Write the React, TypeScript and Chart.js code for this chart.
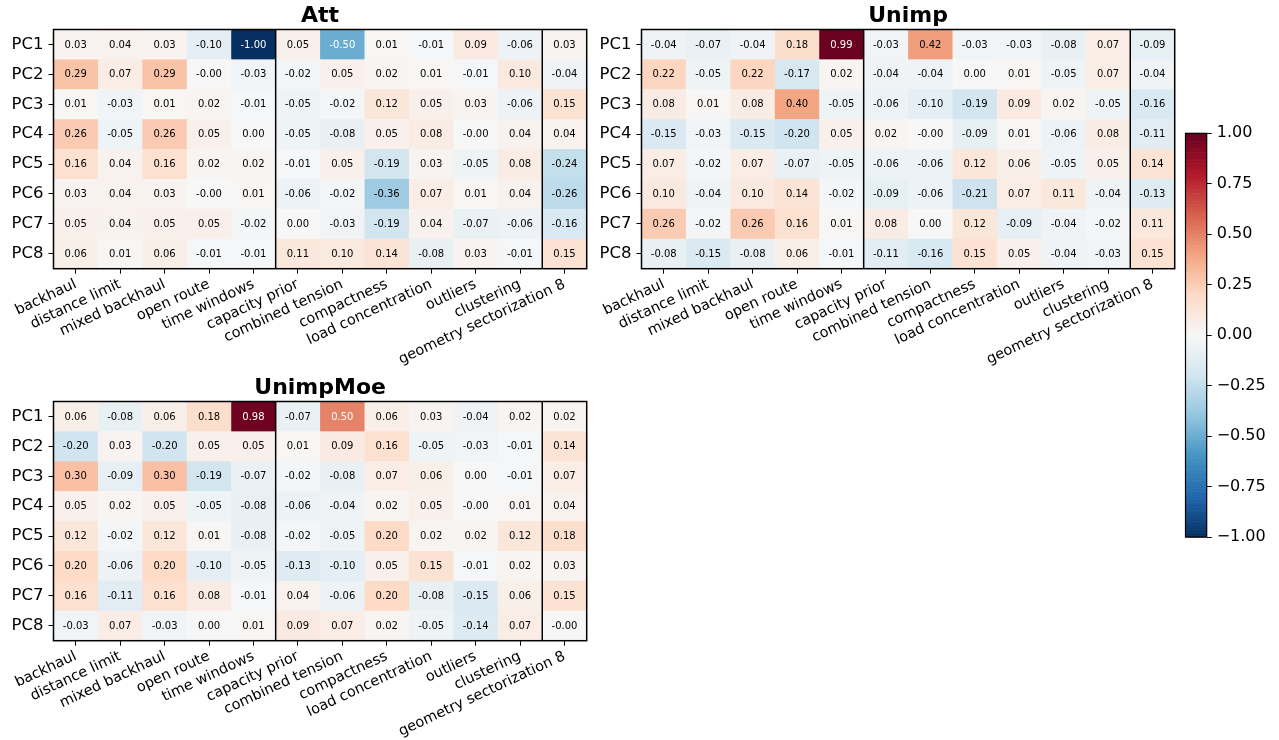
import { useEffect, useRef } from "react";
import { Chart, registerables } from "chart.js";

Chart.register(...registerables);

const features = [
  "backhaul",
  "distance limit",
  "mixed backhaul",
  "open route",
  "time windows",
  "capacity prior",
  "combined tension",
  "compactness",
  "load concentration",
  "outliers",
  "clustering",
  "geometry sectorization 8",
];

const components = ["PC1", "PC2", "PC3", "PC4", "PC5", "PC6", "PC7", "PC8"];

const attValues = [
  [0.03, 0.04, 0.03, -0.1, -1.0, 0.05, -0.5, 0.01, -0.01, 0.09, -0.06, 0.03],
  [0.29, 0.07, 0.29, -0.0, -0.03, -0.02, 0.05, 0.02, 0.01, -0.01, 0.1, -0.04],
  [0.01, -0.03, 0.01, 0.02, -0.01, -0.05, -0.02, 0.12, 0.05, 0.03, -0.06, 0.15],
  [0.26, -0.05, 0.26, 0.05, 0.0, -0.05, -0.08, 0.05, 0.08, -0.0, 0.04, 0.04],
  [0.16, 0.04, 0.16, 0.02, 0.02, -0.01, 0.05, -0.19, 0.03, -0.05, 0.08, -0.24],
  [0.03, 0.04, 0.03, -0.0, 0.01, -0.06, -0.02, -0.36, 0.07, 0.01, 0.04, -0.26],
  [0.05, 0.04, 0.05, 0.05, -0.02, 0.0, -0.03, -0.19, 0.04, -0.07, -0.06, -0.16],
  [0.06, 0.01, 0.06, -0.01, -0.01, 0.11, 0.1, 0.14, -0.08, 0.03, -0.01, 0.15],
];

const unimpValues = [
  [-0.04, -0.07, -0.04, 0.18, 0.99, -0.03, 0.42, -0.03, -0.03, -0.08, 0.07, -0.09],
  [0.22, -0.05, 0.22, -0.17, 0.02, -0.04, -0.04, 0.0, 0.01, -0.05, 0.07, -0.04],
  [0.08, 0.01, 0.08, 0.4, -0.05, -0.06, -0.1, -0.19, 0.09, 0.02, -0.05, -0.16],
  [-0.15, -0.03, -0.15, -0.2, 0.05, 0.02, -0.0, -0.09, 0.01, -0.06, 0.08, -0.11],
  [0.07, -0.02, 0.07, -0.07, -0.05, -0.06, -0.06, 0.12, 0.06, -0.05, 0.05, 0.14],
  [0.1, -0.04, 0.1, 0.14, -0.02, -0.09, -0.06, -0.21, 0.07, 0.11, -0.04, -0.13],
  [0.26, -0.02, 0.26, 0.16, 0.01, 0.08, 0.0, 0.12, -0.09, -0.04, -0.02, 0.11],
  [-0.08, -0.15, -0.08, 0.06, -0.01, -0.11, -0.16, 0.15, 0.05, -0.04, -0.03, 0.15],
];

const unimpMoeValues = [
  [0.06, -0.08, 0.06, 0.18, 0.98, -0.07, 0.5, 0.06, 0.03, -0.04, 0.02, 0.02],
  [-0.2, 0.03, -0.2, 0.05, 0.05, 0.01, 0.09, 0.16, -0.05, -0.03, -0.01, 0.14],
  [0.3, -0.09, 0.3, -0.19, -0.07, -0.02, -0.08, 0.07, 0.06, 0.0, -0.01, 0.07],
  [0.05, 0.02, 0.05, -0.05, -0.08, -0.06, -0.04, 0.02, 0.05, -0.0, 0.01, 0.04],
  [0.12, -0.02, 0.12, 0.01, -0.08, -0.02, -0.05, 0.2, 0.02, 0.02, 0.12, 0.18],
  [0.2, -0.06, 0.2, -0.1, -0.05, -0.13, -0.1, 0.05, 0.15, -0.01, 0.02, 0.03],
  [0.16, -0.11, 0.16, 0.08, -0.01, 0.04, -0.06, 0.2, -0.08, -0.15, 0.06, 0.15],
  [-0.03, 0.07, -0.03, 0.0, 0.01, 0.09, 0.07, 0.02, -0.05, -0.14, 0.07, -0.0],
];

// signed zeros that print as -0.00 in the reference
const negativeZeroCells: Record<string, string[]> = {
  Att: ["1,3", "5,3", "3,9"],
  Unimp: ["3,6"],
  UnimpMoe: ["3,9", "7,11"],
};

const groupBoundaries = [4.5, 10.5];
const colorbarTicks = [-1, -0.75, -0.5, -0.25, 0, 0.25, 0.5, 0.75, 1];

// RdBu_r anchors, from -1 to +1
const rdbuR = [
  [5, 48, 97],
  [33, 102, 172],
  [67, 147, 195],
  [146, 197, 222],
  [209, 229, 240],
  [247, 247, 247],
  [253, 219, 199],
  [244, 165, 130],
  [214, 96, 77],
  [178, 24, 43],
  [103, 0, 31],
];

function colorFor(v: number): string {
  const t = Math.max(0, Math.min(1, (v + 1) / 2)) * (rdbuR.length - 1);
  const i = Math.min(rdbuR.length - 2, Math.floor(t));
  const f = t - i;
  const a = rdbuR[i];
  const b = rdbuR[i + 1];
  const c = a.map((x, k) => Math.round(x + (b[k] - x) * f));
  return `rgb(${c[0]},${c[1]},${c[2]})`;
}

const FONT = "'DejaVu Sans', sans-serif";

function formatCell(v: number, neg: boolean): string {
  const s = v.toFixed(2);
  if (neg && v === 0) return "-0.00";
  return s;
}

type PanelProps = {
  title: string;
  values: number[][];
  left: number;
  top: number;
};

function HeatmapPanel({ title, values, left, top }: PanelProps) {
  const ref = useRef<HTMLCanvasElement | null>(null);
  useEffect(() => {
    if (!ref.current) return;
    const negs = negativeZeroCells[title] || [];
    const points: { x: number; y: number; v: number }[] = [];
    values.forEach((row, r) =>
      row.forEach((v, c) => points.push({ x: c, y: r, v }))
    );

    const heatPlugin = {
      id: "heat",
      beforeDatasetsDraw(chart: any) {
        const { ctx, chartArea } = chart;
        const xs = chart.scales.x;
        const ys = chart.scales.y;
        ctx.save();
        points.forEach((p) => {
          const x0 = xs.getPixelForValue(p.x - 0.5);
          const x1 = xs.getPixelForValue(p.x + 0.5);
          const y0 = ys.getPixelForValue(p.y - 0.5);
          const y1 = ys.getPixelForValue(p.y + 0.5);
          ctx.fillStyle = colorFor(p.v);
          ctx.fillRect(
            Math.min(x0, x1),
            Math.min(y0, y1),
            Math.abs(x1 - x0) + 0.5,
            Math.abs(y1 - y0) + 0.5
          );
        });
        ctx.font = `10px ${FONT}`;
        ctx.textAlign = "center";
        ctx.textBaseline = "middle";
        points.forEach((p) => {
          const cx = xs.getPixelForValue(p.x);
          const cy = ys.getPixelForValue(p.y);
          ctx.fillStyle = Math.abs(p.v) >= 0.45 ? "#ffffff" : "#000000";
          ctx.fillText(formatCell(p.v, negs.includes(`${p.y},${p.x}`)), cx, cy + 0.5);
        });
        // group separators
        ctx.strokeStyle = "#000000";
        ctx.lineWidth = 1.5;
        groupBoundaries.forEach((b) => {
          const x = xs.getPixelForValue(b);
          ctx.beginPath();
          ctx.moveTo(x, chartArea.top);
          ctx.lineTo(x, chartArea.bottom);
          ctx.stroke();
        });
        ctx.lineWidth = 1.5;
        ctx.strokeRect(
          chartArea.left,
          chartArea.top,
          chartArea.right - chartArea.left,
          chartArea.bottom - chartArea.top
        );
        // title
        ctx.fillStyle = "#000000";
        ctx.font = `bold 22px ${FONT}`;
        ctx.textAlign = "center";
        ctx.textBaseline = "alphabetic";
        ctx.fillText(title, (chartArea.left + chartArea.right) / 2, chartArea.top - 7.5);
        ctx.restore();
      },
    };

    const chart = new Chart(ref.current, {
      type: "scatter",
      data: {
        datasets: [
          {
            data: points.map((p) => ({ x: p.x, y: p.y })),
            pointRadius: 0,
            pointHoverRadius: 0,
          },
        ],
      },
      options: {
        animation: false,
        responsive: false,
        events: [],
        layout: { padding: { left: 0, right: 13.3, top: 29.5, bottom: 0 } },
        plugins: {
          legend: { display: false },
          tooltip: { enabled: false },
          title: { display: false },
        },
        scales: {
          x: {
            type: "linear",
            min: -0.5,
            max: 11.5,
            afterBuildTicks: (s: any) => {
              s.ticks = features.map((_, i) => ({ value: i }));
            },
            afterFit: (s: any) => {
              s.height = 101.3;
            },
            ticks: {
              autoSkip: false,
              minRotation: 25,
              maxRotation: 25,
              padding: 2,
              color: "#000000",
              font: { family: FONT, size: 14.5 },
              callback: (v: any) => features[v as number] ?? "",
            },
            grid: {
              drawOnChartArea: false,
              drawTicks: true,
              tickLength: 5,
              color: "#000000",
              lineWidth: 1,
            },
            border: { display: false },
          },
          y: {
            type: "linear",
            min: -0.5,
            max: 7.5,
            reverse: true,
            afterBuildTicks: (s: any) => {
              s.ticks = components.map((_, i) => ({ value: i }));
            },
            afterFit: (s: any) => {
              s.width = 53.5;
            },
            ticks: {
              autoSkip: false,
              padding: 5,
              color: "#000000",
              font: { family: FONT, size: 16.5 },
              callback: (v: any) => components[v as number] ?? "",
            },
            grid: {
              drawOnChartArea: false,
              drawTicks: true,
              tickLength: 5,
              color: "#000000",
              lineWidth: 1,
            },
            border: { display: false },
          },
        },
      },
      plugins: [heatPlugin],
    } as any);
    return () => chart.destroy();
  }, [title, values]);

  return (
    <canvas
      ref={ref}
      width={600}
      height={370}
      style={{ position: "absolute", left, top, width: 600, height: 370 }}
    />
  );
}

function Colorbar() {
  const ref = useRef<HTMLCanvasElement | null>(null);
  useEffect(() => {
    if (!ref.current) return;
    const barPlugin = {
      id: "bar",
      beforeDatasetsDraw(chart: any) {
        const { ctx, chartArea } = chart;
        const ys = chart.scales.y;
        const n = 256;
        ctx.save();
        for (let i = 0; i < n; i++) {
          const v0 = -1 + (2 * i) / n;
          const v1 = -1 + (2 * (i + 1)) / n;
          const p0 = ys.getPixelForValue(v0);
          const p1 = ys.getPixelForValue(v1);
          ctx.fillStyle = colorFor((v0 + v1) / 2);
          ctx.fillRect(chartArea.left, p1, chartArea.right - chartArea.left, p0 - p1 + 0.6);
        }
        ctx.strokeStyle = "#000000";
        ctx.lineWidth = 1.2;
        ctx.strokeRect(
          chartArea.left,
          chartArea.top,
          chartArea.right - chartArea.left,
          chartArea.bottom - chartArea.top
        );
        ctx.restore();
      },
    };
    const chart = new Chart(ref.current, {
      type: "scatter",
      data: { datasets: [{ data: [{ x: 0, y: 0 }], pointRadius: 0 }] },
      options: {
        animation: false,
        responsive: false,
        events: [],
        layout: { padding: { left: 35.5, right: 0, top: 33.3, bottom: 43 } },
        plugins: {
          legend: { display: false },
          tooltip: { enabled: false },
        },
        scales: {
          x: { type: "linear", display: false, min: 0, max: 1 },
          y: {
            type: "linear",
            position: "right",
            min: -1,
            max: 1,
            afterBuildTicks: (s: any) => {
              s.ticks = colorbarTicks.map((v) => ({ value: v }));
            },
            afterFit: (s: any) => {
              s.width = 72.3;
            },
            ticks: {
              padding: 5,
              color: "#000000",
              font: { family: FONT, size: 16 },
              callback: (v: any) => (v as number).toFixed(2).replace("-", "\u2212"),
            },
            grid: {
              drawOnChartArea: false,
              drawTicks: true,
              tickLength: 5,
              color: "#000000",
              lineWidth: 1,
            },
            border: { display: false },
          },
        },
      },
      plugins: [barPlugin],
    } as any);
    return () => chart.destroy();
  }, []);
  return (
    <canvas
      ref={ref}
      width={129}
      height={480}
      style={{ position: "absolute", left: 1150, top: 100, width: 129, height: 480 }}
    />
  );
}

export default function App() {
  return (
    <div
      style={{
        position: "absolute",
        left: 0,
        top: 0,
        width: 1279,
        height: 740,
        background: "#ffffff",
        overflow: "hidden",
      }}
    >
      <HeatmapPanel title="Att" values={attValues} left={0} top={0} />
      <HeatmapPanel title="Unimp" values={unimpValues} left={588.3} top={0} />
      <HeatmapPanel title="UnimpMoe" values={unimpMoeValues} left={0} top={371.5} />
      <Colorbar />
    </div>
  );
}
